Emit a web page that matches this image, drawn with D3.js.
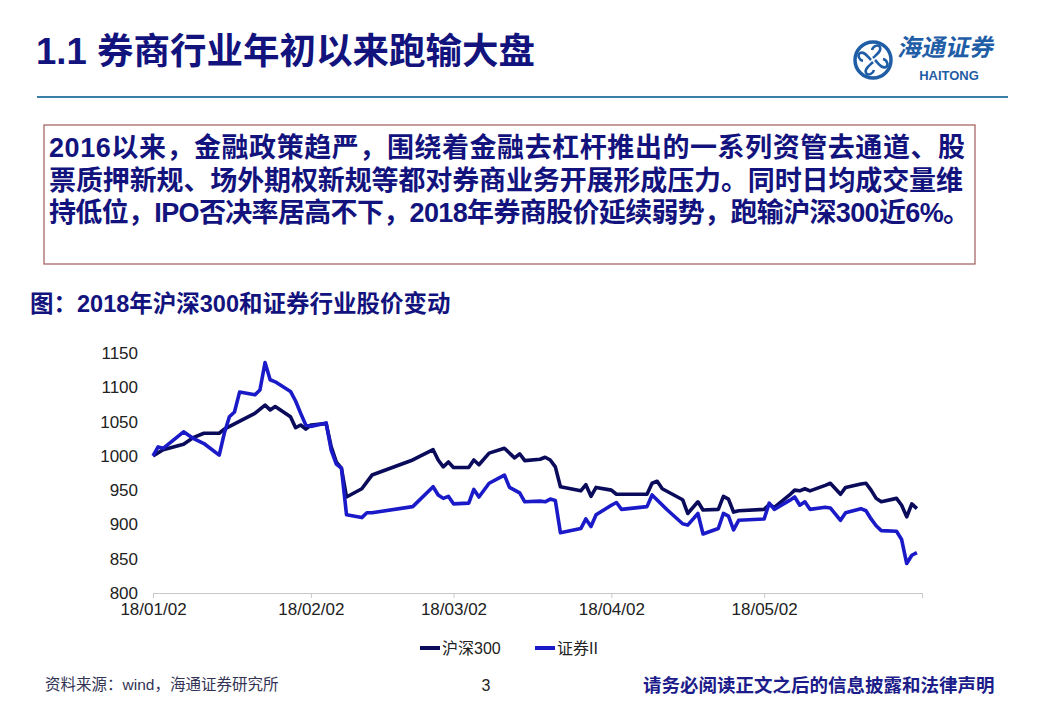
<!DOCTYPE html>
<html>
<head>
<meta charset="utf-8">
<script src="https://cdn.jsdelivr.net/npm/d3@7"></script>
<style>
  body { margin: 0; background: #fff; }
  text { font-family: "Liberation Sans", "Noto Sans CJK SC", sans-serif; }
</style>
</head>
<body>
<svg id="svg1" width="1040" height="718"></svg>
<script>
'use strict';

// 沪深300 (dark line)
const hsDates = ["2018-01-02","2018-01-04","2018-01-08","2018-01-10","2018-01-12","2018-01-15","2018-01-16",
  "2018-01-22","2018-01-24","2018-01-25","2018-01-26","2018-01-29","2018-01-30","2018-01-31","2018-02-01",
  "2018-02-02","2018-02-05","2018-02-06","2018-02-07","2018-02-08","2018-02-09","2018-02-12","2018-02-14",
  "2018-02-22","2018-02-26","2018-02-27","2018-02-28","2018-03-01","2018-03-02","2018-03-05","2018-03-06",
  "2018-03-07","2018-03-09","2018-03-12","2018-03-14","2018-03-15","2018-03-16","2018-03-19","2018-03-20",
  "2018-03-21","2018-03-22","2018-03-23","2018-03-27","2018-03-28","2018-03-29","2018-03-30","2018-04-02",
  "2018-04-03","2018-04-09","2018-04-10","2018-04-11","2018-04-12","2018-04-16","2018-04-17","2018-04-19",
  "2018-04-20","2018-04-23","2018-04-24","2018-04-25","2018-04-26","2018-04-27","2018-05-02","2018-05-03",
  "2018-05-04","2018-05-07","2018-05-08","2018-05-09","2018-05-10","2018-05-11","2018-05-14","2018-05-15",
  "2018-05-16","2018-05-17","2018-05-18","2018-05-21","2018-05-22","2018-05-23","2018-05-24","2018-05-25",
  "2018-05-28","2018-05-29","2018-05-30","2018-05-31","2018-06-01"];
const hsValues = [1000,1009,1017,1027,1033,1033,1039,
  1062,1074,1067,1072,1057,1041,1045,1039,
  1045,1047,1013,991,982,940,952,972,
  994,1009,994,984,991,983,983,994,
  987,1004,1011,997,1003,993,995,998,
  994,984,955,949,958,941,954,950,
  944,944,960,963,952,936,916,933,
  921,922,941,937,918,920,922,929,
  925,943,950,949,952,949,957,960,
  952,944,954,959,960,950,938,933,
  938,928,911,930,923];

// 证券II (blue line)
const zqDates = ["2018-01-02","2018-01-03","2018-01-04","2018-01-08","2018-01-10","2018-01-12","2018-01-15",
  "2018-01-16","2018-01-17","2018-01-18","2018-01-19","2018-01-22","2018-01-23","2018-01-24","2018-01-25",
  "2018-01-26","2018-01-29","2018-01-30","2018-01-31","2018-02-01","2018-02-02","2018-02-05","2018-02-06",
  "2018-02-07","2018-02-08","2018-02-09","2018-02-12","2018-02-13","2018-02-14","2018-02-22","2018-02-26",
  "2018-02-27","2018-02-28","2018-03-01","2018-03-02","2018-03-05","2018-03-06","2018-03-07","2018-03-09",
  "2018-03-12","2018-03-13","2018-03-15","2018-03-16","2018-03-19","2018-03-20","2018-03-21","2018-03-22",
  "2018-03-23","2018-03-27","2018-03-28","2018-03-29","2018-03-30","2018-04-02","2018-04-03","2018-04-04",
  "2018-04-09","2018-04-10","2018-04-13","2018-04-16","2018-04-17","2018-04-19","2018-04-20","2018-04-23",
  "2018-04-24","2018-04-25","2018-04-26","2018-04-27","2018-05-02","2018-05-03","2018-05-04","2018-05-07",
  "2018-05-08","2018-05-09","2018-05-10","2018-05-11","2018-05-14","2018-05-15","2018-05-16","2018-05-17",
  "2018-05-18","2018-05-21","2018-05-22","2018-05-23","2018-05-24","2018-05-25","2018-05-28","2018-05-29",
  "2018-05-30","2018-05-31","2018-06-01"];
const zqValues = [1000,1013,1011,1035,1025,1018,1001,
  1033,1057,1064,1093,1089,1096,1136,1111,
  1108,1094,1080,1062,1045,1043,1048,1008,
  988,982,914,910,917,917,926,955,
  943,938,941,930,931,951,940,960,
  972,954,946,933,934,933,937,935,
  888,894,908,897,914,928,932,922,
  926,943,921,901,899,916,886,894,
  916,912,892,906,908,931,922,935,
  940,928,933,922,925,924,915,906,
  917,923,920,908,898,891,890,878,
  843,855,859];

const seriesNames = ["沪深300", "证券II"];
const seriesColors = ["#0b0b5c", "#1a1ac8"];
const yTicks = [800, 850, 900, 950, 1000, 1050, 1100, 1150];
const xTickDates = ["2018-01-02","2018-02-02","2018-03-02","2018-04-02","2018-05-02","2018-06-02"];
const xTickLabels = ["18/01/02","18/02/02","18/03/02","18/04/02","18/05/02",""];

const boxLines = [
  "2016以来，金融政策趋严，围绕着金融去杠杆推出的一系列资管去通道、股",
  "票质押新规、场外期权新规等都对券商业务开展形成压力。同时日均成交量维",
  "持低位，IPO否决率居高不下，2018年券商股价延续弱势，跑输沪深300近6%。"
];
const boxLineWidths = [916, 914, 921];

const parse = d3.timeParse("%Y-%m-%d");
const svg = d3.select("#svg1");
const navy = "#13137e";

// page header
svg.append("text")
  .attr("x", 36).attr("y", 64)
  .style("font-size", "36.5px").style("font-weight", "bold").style("fill", navy)
  .text("1.1 券商行业年初以来跑输大盘");

svg.append("line")
  .attr("x1", 37).attr("x2", 1008).attr("y1", 97).attr("y2", 97)
  .style("stroke", "#3b7fa8").style("stroke-width", 2);

// logo
let logo = svg.append("g").attr("transform", "translate(873,60)");
logo.append("circle").attr("r", 18).style("fill", "none").style("stroke", "#1f5ea6").style("stroke-width", 3.5);
[0, 90, 180, 270].forEach(a => {
  logo.append("path")
    .attr("transform", `rotate(${a})`)
    .attr("d", "M0,-2 C4,-6 9,-9 7,-13 C5,-16 0,-14 -1,-10")
    .style("fill", "none").style("stroke", "#1f5ea6").style("stroke-width", 2.6);
});
svg.append("text")
  .attr("x", 897).attr("y", 56)
  .attr("transform", "skewX(-12) translate(12,0)")
  .style("font-size", "24px").style("font-weight", "bold").style("fill", "#1f5ea6")
  .text("海通证券");
svg.append("text")
  .attr("x", 949).attr("y", 80).attr("text-anchor", "middle")
  .style("font-size", "13px").style("font-weight", "bold").style("fill", "#1f5ea6")
  .text("HAITONG");

// text box
svg.append("rect")
  .attr("x", 44).attr("y", 125).attr("width", 931).attr("height", 139)
  .style("fill", "none").style("stroke", "#a05a5a").style("stroke-width", 1.2);
boxLines.forEach((t, i) => {
  svg.append("text")
    .attr("x", 49).attr("y", 157 + i * 32.5)
    .attr("textLength", boxLineWidths[i]).attr("lengthAdjust", "spacing")
    .style("font-size", "27px").style("font-weight", "bold").style("fill", navy)
    .text(t);
});

// chart title
svg.append("text")
  .attr("x", 30).attr("y", 312)
  .style("font-size", "23.5px").style("font-weight", "bold").style("fill", navy)
  .text("图：2018年沪深300和证券行业股价变动");

// chart
let x = d3.scaleTime().domain([parse("2018-01-02"), parse("2018-06-02")]).range([153, 922]);
let y = d3.scaleLinear().domain([800, 1150]).range([593, 353]);

let gx = svg.append("g")
  .attr("transform", "translate(0,593)")
  .call(d3.axisBottom(x)
    .tickValues(xTickDates.map(parse))
    .tickFormat((d, i) => xTickLabels[i])
    .tickSize(5).tickPadding(5));
gx.select(".domain").style("stroke", "#c8c8c8");
gx.selectAll(".tick line").style("stroke", "#c8c8c8");
gx.selectAll(".tick text").style("font-size", "17px").style("fill", "#222")
  .style("font-family", "'Liberation Sans', sans-serif");

let gy = svg.append("g")
  .attr("transform", "translate(138,0)")
  .call(d3.axisLeft(y).tickValues(yTicks).tickFormat(d3.format("d")).tickSize(0).tickPadding(0));
gy.select(".domain").remove();
gy.selectAll(".tick text").style("font-size", "17px").style("fill", "#222")
  .style("font-family", "'Liberation Sans', sans-serif");

let line = d3.line().x(d => x(d[0])).y(d => y(d[1]));
let series = [
  d3.zip(hsDates.map(parse), hsValues),
  d3.zip(zqDates.map(parse), zqValues)
];
series.forEach((s, i) => {
  svg.append("path")
    .datum(s)
    .attr("d", line)
    .style("fill", "none")
    .style("stroke", seriesColors[i])
    .style("stroke-width", 3.6)
    .style("stroke-linejoin", "round");
});

// legend
let legendX = [420, 535];
seriesNames.forEach((n, i) => {
  svg.append("line")
    .attr("x1", legendX[i]).attr("x2", legendX[i] + 20).attr("y1", 648).attr("y2", 648)
    .style("stroke", seriesColors[i]).style("stroke-width", 4);
  svg.append("text")
    .attr("x", legendX[i] + 22).attr("y", 654)
    .style("font-size", "16px").style("fill", "#222")
    .text(n);
});

// footer
svg.append("text")
  .attr("x", 45).attr("y", 690)
  .style("font-size", "15.5px").style("fill", "#333355")
  .text("资料来源：wind，海通证券研究所");
svg.append("text")
  .attr("x", 486).attr("y", 691).attr("text-anchor", "middle")
  .style("font-size", "16px").style("fill", "#222")
  .text("3");
svg.append("text")
  .attr("x", 643).attr("y", 692)
  .style("font-size", "18.5px").style("font-weight", "bold").style("fill", "#1c1c8a")
  .text("请务必阅读正文之后的信息披露和法律声明");
</script>
</body>
</html>
